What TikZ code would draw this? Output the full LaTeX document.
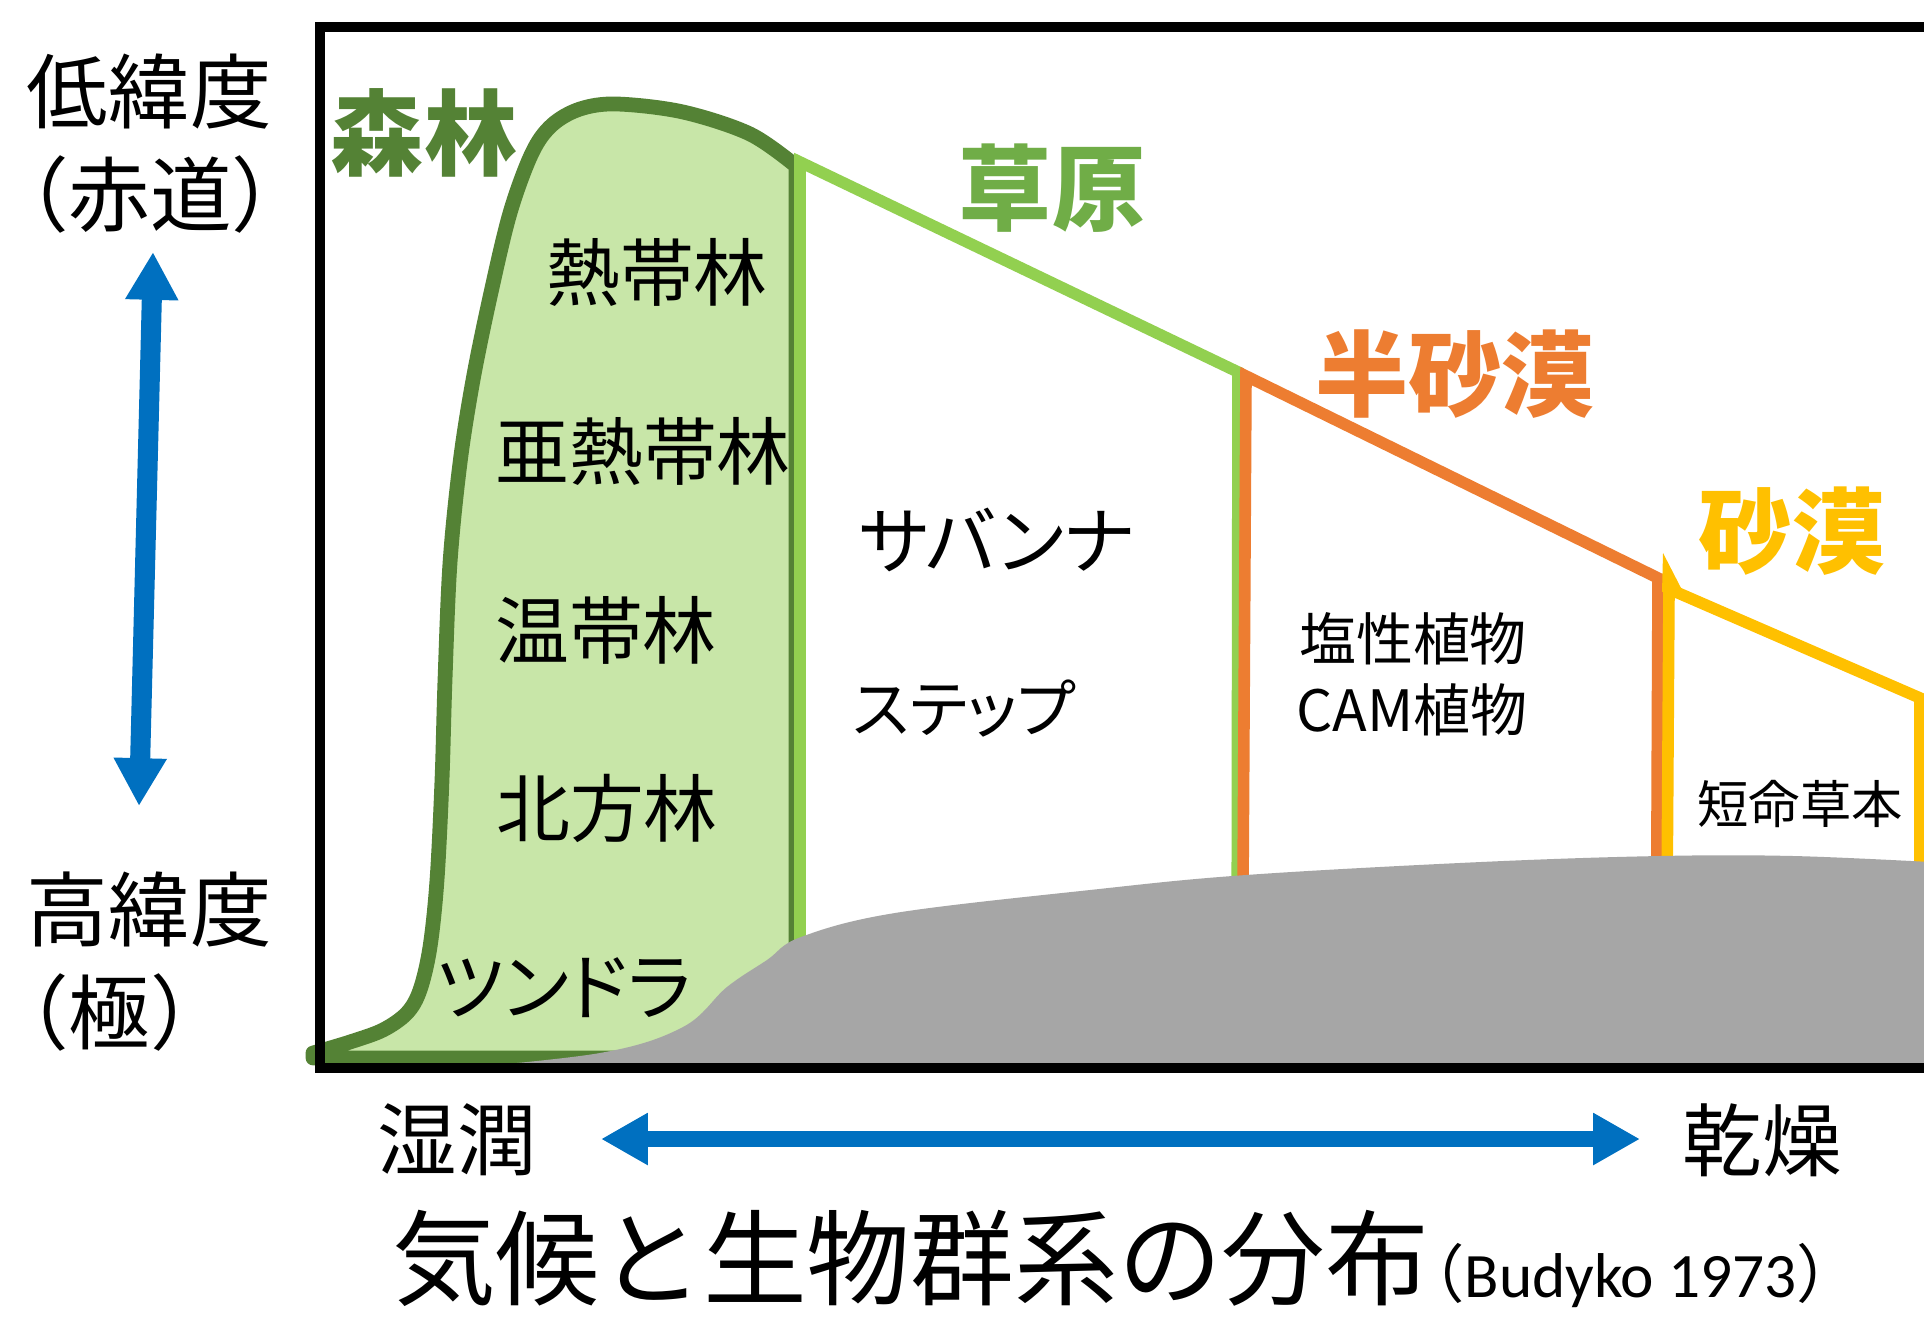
\documentclass[tikz,border=0pt]{standalone}
\usepackage{fontspec}
\setmainfont{Noto Sans CJK JP}
\newfontfamily\haltf[RawFeature=+halt]{Noto Sans CJK JP}
\newfontfamily\paltf[RawFeature=+palt]{Noto Sans CJK JP}
\newfontfamily\carl{Carlito}
\usetikzlibrary{arrows.meta}
\newcommand\fsz[1]{\fontsize{#1}{#1}\selectfont}
\definecolor{fgreen}{HTML}{548235}
\definecolor{ffill}{HTML}{C8E6A8}
\definecolor{lgreen}{HTML}{92D050}
\definecolor{tgreen}{HTML}{70AD47}
\definecolor{orng}{HTML}{ED7D31}
\definecolor{yel}{HTML}{FFC000}
\definecolor{gry}{HTML}{A6A6A6}
\definecolor{blu}{HTML}{0070C0}
\tikzset{
  lbl/.style={inner sep=0pt, outer sep=0pt},
  axislbl/.style={lbl, anchor=west, font=\fsz{23.2pt}\haltf},
  biome/.style={lbl, font=\fsz{26.5pt}\bfseries},
  sub/.style={lbl, font=\fsz{21pt}},
  subk/.style={lbl, font=\fsz{21pt}\paltf},
  zone/.style={line width=3.3pt, line join=miter, miter limit=3},
  bluearrV/.style={draw=blu, line width=5.7pt,
     {Triangle[width=14.2pt,length=13.6pt]}-{Triangle[width=14.2pt,length=13.6pt]}},
  bluearrH/.style={draw=blu, line width=4.8pt,
     {Triangle[width=13.9pt,length=13.3pt]}-{Triangle[width=13.9pt,length=13.3pt]}},
}
\begin{document}
\begin{tikzpicture}[x=0.01cm,y=-0.01cm]
\useasboundingbox (0,0) rectangle (1924,1321);
\clip (0,0) rectangle (1924,1321);
\fill[white] (0,0) rectangle (1924,1321);

% forest
\draw[fgreen, fill=ffill, line width=4.2pt, line join=round, line cap=round]
  plot[smooth, tension=0.55] coordinates {(313,1053) (350,1042) (383,1030) (407,1013) (420,990) (430,947) (437,880) (442,780) (445,680) (450,563) (460,463) (473,380) (490,297) (510,213) (532,153) (552,125) (580,109) (617,104) (683,112) (750,134) (796,166)}
  -- (796,1058) -- (313,1058) -- cycle;

% grassland
\draw[lgreen, zone] (800,162) -- (1238,372) -- (1237,1059) -- (800,1059) -- cycle;
% semi-desert
\draw[orng, zone] (1246,376) -- (1658,578) -- (1656,1059) -- (1242,1059) -- cycle;
% desert
\draw[yel, zone] (1669,589) -- (1920,698) -- (1920,1059) -- (1666,1059) -- cycle;
\fill[yel] (1663,553) -- (1662,592) -- (1681,588) -- cycle;

% gray area
\fill[gry] plot[smooth, tension=0.6] coordinates {(440,1070) (600,1053) (683,1027) (727,987) (767,960) (801,937) (895,913) (1090,890) (1246,875) (1481,862) (1660,856) (1793,856) (1930,862)}
  -- (1930,1064) -- (440,1064) -- cycle;

% frame
\draw[black, line width=2.85pt] (320,27) rectangle (1960,1068);

% axis labels
\node[axislbl] (lowlat) at (27,92) {低緯度};
\node[axislbl] (equator) at (28,194) {（赤道）};
\node[axislbl] (highlat) at (27,910) {高緯度};
\node[axislbl] (pole) at (28,1012) {（極）};
\coordinate (vtop) at (153,252);
\coordinate (vbot) at (139,806);
\draw[bluearrV] (vtop) -- (vbot);

% biome titles
\node[biome, text=fgreen] (forest) at (424,133) {森林};
\node[biome, text=tgreen] (grass) at (1052,188) {草原};
\node[biome, text=orng] (semides) at (1455,374) {半砂漠};
\node[biome, text=yel] (desert) at (1792,531) {砂漠};

% forest sub labels
\node[sub] (trop) at (657,272) {熱帯林};
\node[sub] (subtrop) at (643,451) {亜熱帯林};
\node[sub] (temp) at (606,630) {温帯林};
\node[sub] (boreal) at (607,808) {北方林};
\node[subk] (tundra) at (564,988) {ツンドラ};

% grassland sub labels
\node[subk] (savanna) at (997,540) {サバンナ};
\node[subk, font=\fsz{18pt}\paltf] (steppe) at (964,709) {ステップ};

% semi-desert
\node[lbl, font=\fsz{16.2pt}] (halo) at (1413,639) {塩性植物};
\node[lbl, font=\fsz{16.2pt}] (cam) at (1412,710) {CAM植物};
% desert
\node[lbl, font=\fsz{14.6pt}] (ephem) at (1800,804) {短命草本};

% moisture axis
\node[lbl, font=\fsz{22.6pt}] (wet) at (457,1140) {湿潤};
\node[lbl, font=\fsz{22.6pt}] (dry) at (1762,1140) {乾燥};
\coordinate (hl) at (601,1139);
\coordinate (hr) at (1640,1139);
\draw[bluearrH] (hl) -- (hr);

% title
\node[lbl, anchor=base west, font=\fsz{29.5pt}] (title) at (392,1297) {気候と生物群系の分布};
\node[lbl, anchor=base west, font=\fsz{18pt}] (src) at ([xshift=1pt]title.base east) {{\haltf （}{\carl Budyko 1973}）};
\end{tikzpicture}
\end{document}
